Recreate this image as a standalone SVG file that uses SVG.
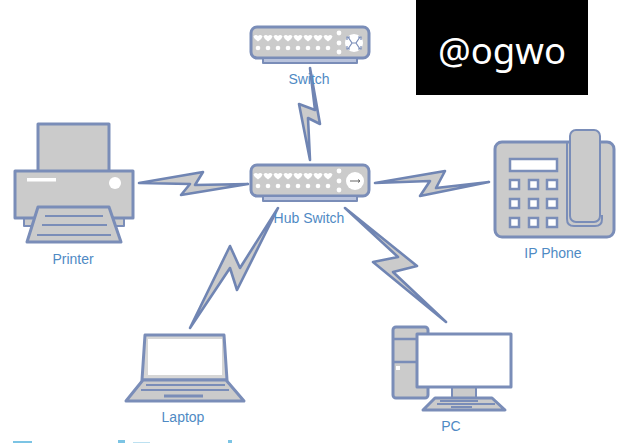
<svg xmlns="http://www.w3.org/2000/svg" width="640" height="443" viewBox="0 0 640 443">
<style>
.s{stroke:#7a8db8;stroke-width:3;fill:#cbcbcb;stroke-linejoin:round}
.t{stroke:#7a8db8;stroke-width:2;fill:#cbcbcb;stroke-linejoin:round}
.b{stroke:#7a8db8;stroke-width:2;fill:#b9c3dc;stroke-linejoin:round}
.k{stroke:#7a8db8;stroke-width:2.5;fill:#fff}
.w{fill:#fff}
.l{fill:none;stroke:#7a8db8;stroke-width:2}
.bolt{stroke:#7085b3;stroke-width:2.6;fill:#cbcbcb;stroke-linejoin:round}
text{font-family:"Liberation Sans",Arial,sans-serif;font-size:14px;fill:#4f8ac4;text-anchor:middle}
</style>
<defs>
<path id="h" class="w" d="M-4.500 -1.500Q-2.500 -4 0 -2Q2.500 -4 4.500 -1.500Q4 1 0 3.500Q-4 1 -4.500 -1.500Z"/>
<g id="ports">
<use href="#h" x="258"/><use href="#h" x="268"/><use href="#h" x="278"/><use href="#h" x="288"/>
<use href="#h" x="298"/><use href="#h" x="308"/><use href="#h" x="318"/><use href="#h" x="328"/>
<g class="w">
<circle cx="258" cy="10" r="2.300"/><circle cx="268" cy="10" r="2.300"/><circle cx="278" cy="10" r="2.300"/><circle cx="288" cy="10" r="2.300"/>
<circle cx="298" cy="10" r="2.300"/><circle cx="308" cy="10" r="2.300"/><circle cx="318" cy="10" r="2.300"/><circle cx="328" cy="10" r="2.300"/>
<circle cx="339" cy="-5" r="2.400"/><circle cx="339" cy="5" r="2.400"/><circle cx="339" cy="14" r="2.400"/>
</g>
</g>
</defs>
<rect width="640" height="443" fill="#fff"/>
<g id="connectors">
<path class="bolt" d="M310 68L320 124L308 118L310 160L299 104L315 110Z"/>
<path class="bolt" d="M139 183L203 172L195 185L248 184L181 195L190 184Z"/>
<path class="bolt" d="M375 183L445 171L436 188L489 182L420 196L430 181Z"/>
<path class="bolt" d="M278 208L237 290L230 268L190 328L230 246L240 268Z"/>
<path class="bolt" d="M345 208L417 266L393 272L446 322L373 262L398 257Z"/>
</g>
<g id="switch">
<rect x="251" y="27" width="118" height="31" rx="6" class="s"/>
<rect x="263" y="58" width="94" height="5" class="b"/>
<use href="#ports" y="38"/>
<circle cx="354" cy="43" r="9" class="w"/>
<path d="M348 37L352 43L348 49M360 37L356 43L360 49M352 43H356M347 40V37H350M361 40V37H358M347 46V49H350M361 46V49H358" fill="none" stroke="#7a8db8" stroke-width="1.200"/>
<text x="309" y="84">Switch</text>
</g>
<g id="hub-switch">
<rect x="251" y="165" width="118" height="31" rx="6" class="s"/>
<rect x="263" y="196" width="94" height="5" class="b"/>
<use href="#ports" y="176"/>
<circle cx="355" cy="181" r="9" class="w"/>
<path d="M350 181H360M358 179.500L360 181L358 182.500" fill="none" stroke="#666" stroke-width="1"/>
<text x="309" y="223">Hub Switch</text>
</g>
<g id="printer">
<rect x="38" y="124" width="71" height="48" class="s"/>
<rect x="24" y="215" width="100" height="11" class="t"/>
<rect x="15" y="171" width="118" height="47" class="s"/>
<rect x="27" y="178" width="29" height="3.500" class="w"/>
<circle cx="115" cy="183" r="6" class="w"/>
<path class="s" d="M38 207H109L121 242H27Z"/>
<path class="l" d="M45 216H103M42 225H107M37 235H111"/>
<text x="73" y="264">Printer</text>
</g>
<g id="ip-phone">
<rect x="495" y="142" width="119" height="95" rx="7" class="s"/>
<rect x="510" y="159" width="47" height="12" class="k"/>
<g class="k">
<rect x="510" y="180" width="9" height="9"/><rect x="529" y="180" width="9" height="9"/><rect x="547" y="180" width="10" height="9"/>
<rect x="510" y="199" width="9" height="9"/><rect x="529" y="199" width="9" height="9"/><rect x="547" y="199" width="10" height="9"/>
<rect x="510" y="218" width="9" height="9"/><rect x="529" y="218" width="9" height="9"/><rect x="547" y="218" width="10" height="9"/>
</g>
<rect x="570" y="130" width="30" height="92" rx="6" class="t"/>
<path class="l" d="M567 142V219Q567 226 574 226H595Q602 226 602 219V215"/>
<text x="553" y="258">IP Phone</text>
</g>
<g id="laptop">
<path d="M145 335H224L227 380H142Z" fill="#d6d6d6" stroke="#7a8db8" stroke-width="3" stroke-linejoin="round"/>
<rect x="148" y="339" width="74" height="36" class="w"/>
<path class="s" d="M143 380H226L244 401H126Z"/>
<path class="l" d="M146 385H225M141 390H229"/>
<path class="l" style="stroke-width:3" d="M164 396H203"/>
<text x="183" y="422">Laptop</text>
</g>
<g id="pc">
<rect x="393" y="327" width="35" height="71" rx="3" class="s"/>
<path class="l" style="stroke-width:2.500" d="M393 339H428M393 362H428"/>
<rect x="396" y="366" width="4" height="4" class="w"/>
<rect x="452" y="386" width="24" height="12" class="t"/>
<rect x="417" y="334" width="94" height="53" class="s" style="fill:#fff"/>
<path class="s" d="M435 398H492L505 410H423Z"/>
<path class="l" style="stroke-width:1.800" d="M440 401H478M437 404H495M451 407H472"/>
<text x="451" y="431">PC</text>
</g>
<g id="watermark">
<rect x="416" y="0" width="172" height="95"/>
<text x="502" y="64" style="font-size:36.500px;fill:#fff;font-family:'Noto Sans','Liberation Sans',sans-serif">@ogwo</text>
</g>
<g id="caption-edge" fill="#7cc4e4">
<rect x="13" y="441" width="19" height="2"/>
<rect x="118" y="440" width="7" height="3"/>
<rect x="133" y="442" width="17" height="1" opacity="0.5"/>
<rect x="228" y="440" width="4" height="3"/>
</g>
</svg>
